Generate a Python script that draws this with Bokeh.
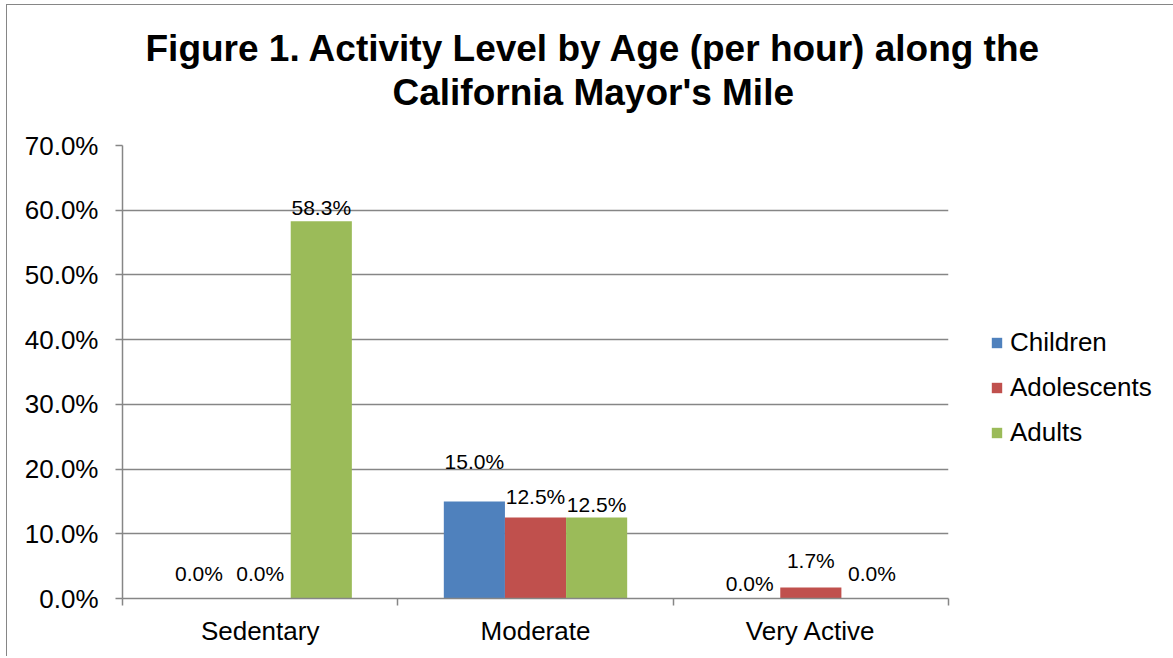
from bokeh.plotting import figure
from bokeh.models import (ColumnDataSource, FactorRange, Range1d, LinearAxis, FixedTicker,
                          NumeralTickFormatter, LabelSet, Title, Legend, LegendItem)
from bokeh.core.properties import value
from bokeh.transform import dodge
from bokeh.embed import file_html
from bokeh.resources import INLINE

# ---- data ----
categories = ["Sedentary", "Moderate", "Very Active"]
series_names = ["Children", "Adolescents", "Adults"]
children = [0.000, 0.150, 0.000]
adolescents = [0.000, 0.125, 0.017]
adults = [0.583, 0.125, 0.000]
y_ticks = [0.0, 0.1, 0.2, 0.3, 0.4, 0.5, 0.6, 0.7]
title_lines = ["Figure 1. Activity Level by Age (per hour) along the",
               "California Mayor's Mile"]

# ---- styles ----
colors = ["#4F81BD", "#C0504D", "#9BBB59"]
bar_w = 0.222
offsets = [-bar_w, 0.0, bar_w]
label_lift = [[25, 40, 15], [25, 21, 27], [14, 13, 25]]  # px above bar tops (hand-placed labels)
title_offsets = [23, 270]   # px from the plot area's left edge
title_standoffs = [-64, 66]
FONT = "Liberation Sans"
GRID = "#868686"

values = [children, adolescents, adults]

p = figure(frame_width=826, frame_height=453, output_backend="svg", toolbar_location=None,
           x_range=FactorRange(*categories, range_padding=0),
           y_range=Range1d(0, 0.7), title=None,
           x_axis_location=None, tools="",
           min_border_left=115, min_border_right=222, min_border_top=140, min_border_bottom=58)
p.outline_line_color = None
p.background_fill_color = "white"
p.border_fill_color = "white"
p.styles = {"margin-left": "6px", "margin-top": "4px",
            "border-left": "1px solid #868686", "border-top": "1px solid #868686",
            "border-right": "1px solid #868686"}

# y axis
ya = p.yaxis[0]
ya.ticker = FixedTicker(ticks=y_ticks)
ya.formatter = NumeralTickFormatter(format="0.0%")
ya.axis_line_color = GRID
ya.axis_line_width = 1.5
ya.major_tick_line_color = GRID
ya.major_tick_line_width = 1.5
ya.major_tick_in = 0
ya.major_tick_out = 7
ya.minor_tick_line_color = None
ya.major_label_text_font = FONT
ya.major_label_text_font_size = "26px"
ya.major_label_text_color = "black"
ya.major_label_standoff = 17

# x axis: labels at category centres, tick marks at category boundaries
centres = [i + 0.5 for i in range(len(categories))]
xa = LinearAxis(ticker=FixedTicker(ticks=centres, minor_ticks=list(range(len(categories) + 1))),
                major_label_overrides={c: name for c, name in zip(centres, categories)})
xa.axis_line_color = GRID
xa.axis_line_width = 1.5
xa.major_tick_line_color = None
xa.minor_tick_line_color = GRID
xa.minor_tick_line_width = 1.5
xa.minor_tick_in = 0
xa.minor_tick_out = 7
xa.major_tick_out = 7
xa.major_tick_in = 0
xa.major_label_text_font = FONT
xa.major_label_text_font_size = "26px"
xa.major_label_text_color = "black"
xa.major_label_standoff = 10
p.add_layout(xa, "below")

p.xgrid.grid_line_color = None
p.ygrid.ticker = FixedTicker(ticks=y_ticks)
p.ygrid.grid_line_color = GRID
p.ygrid.grid_line_width = 1.5

items = []
for name, vals, col, off, lift in zip(series_names, values, colors, offsets, label_lift):
    src = ColumnDataSource(dict(cat=categories, val=vals,
                                txt=[f"{v * 100:.1f}%" for v in vals], lift=lift))
    r = p.vbar(x=dodge("cat", off, range=p.x_range), top="val", width=bar_w,
               source=src, fill_color=col, line_color=None)
    items.append(LegendItem(label=name, renderers=[r]))
    p.add_layout(LabelSet(x=dodge("cat", off, range=p.x_range), y="val", text="txt",
                          y_offset="lift", source=src, text_align="center",
                          text_baseline="middle", text_font=value(FONT),
                          text_font_size=value("21px"), text_color="black"))

legend = Legend(items=items, location=(42, 150), orientation="vertical")
legend.label_text_font = FONT
legend.label_text_font_size = "26px"
legend.label_text_color = "black"
legend.glyph_width = 13
legend.glyph_height = 13
legend.label_standoff = 7
legend.label_height = 29
legend.spacing = 14
legend.padding = 0
legend.margin = 0
legend.border_line_color = None
legend.background_fill_alpha = 0
p.add_layout(legend, "right")

# title: two lines, stacked outward from the plot area (second line nearest)
for line, off, so in reversed(list(zip(title_lines, title_offsets, title_standoffs))):
    p.add_layout(Title(text=line, align="left", offset=off, text_font=FONT,
                       text_font_size="37px", text_font_style="bold",
                       text_color="black", standoff=so), "above")

open("out.html", "w").write(file_html(p, INLINE))
